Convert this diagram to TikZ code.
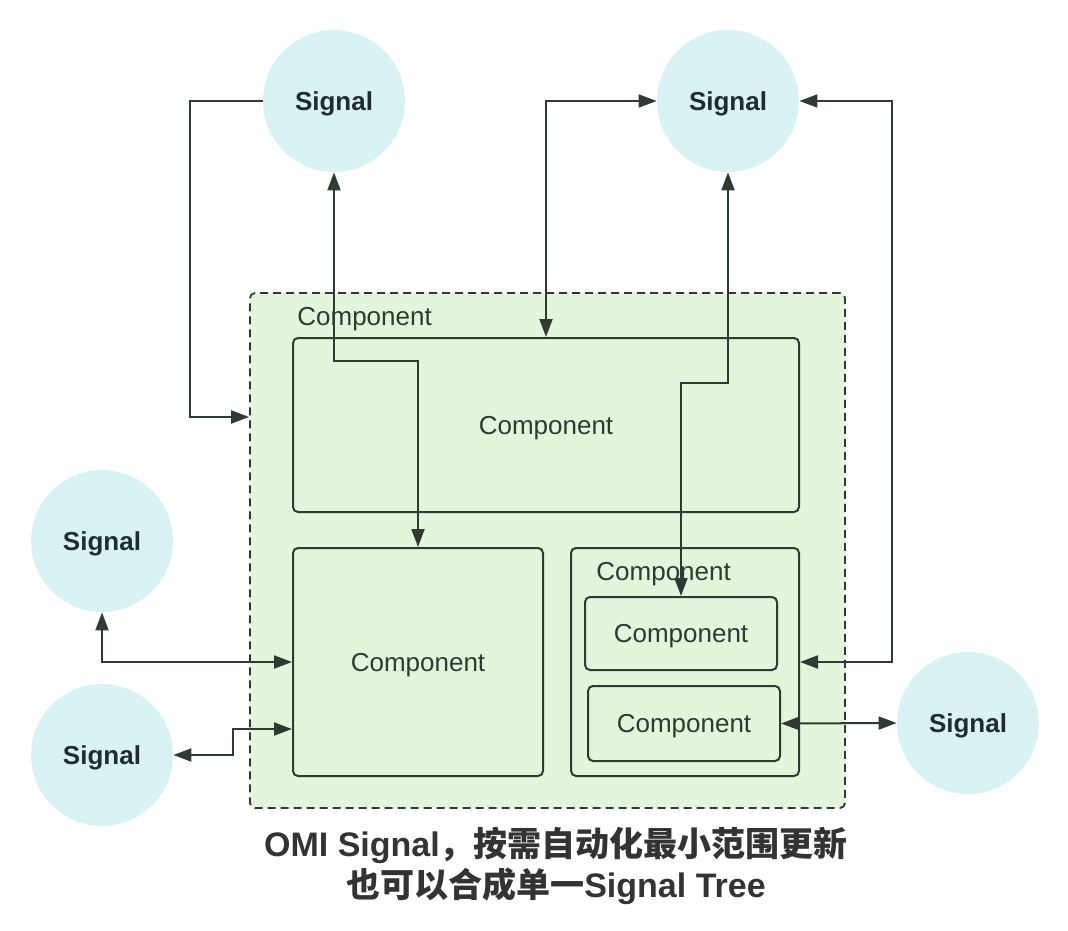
\documentclass[tikz,border=0pt]{standalone}
\usepackage{fontspec}
\setmainfont{Liberation Sans}
\newfontfamily\cjk{Noto Sans CJK SC}
\usetikzlibrary{arrows.meta}

\definecolor{sigfill}{HTML}{D9F2F3}
\definecolor{compfill}{HTML}{E3F6DB}
\definecolor{edge}{HTML}{2F3A33}
\definecolor{sigtext}{HTML}{1F2D33}
\definecolor{titletext}{HTML}{333333}

\begin{document}
\begin{tikzpicture}[x=0.5pt,y=-0.5pt,
    signal/.style={circle,fill=sigfill,minimum size=71pt,inner sep=0pt,text depth=0pt,
      text=sigtext,font=\fontsize{13}{15}\selectfont\bfseries},
    comp/.style={draw=edge,line width=1pt,rounded corners=2.5pt,fill=compfill,
      inner sep=0pt,text depth=0pt,text=edge,font=\fontsize{13}{15}\selectfont},
    outer/.style={draw=edge,line width=0.9pt,dash pattern=on 4pt off 2.5pt,
      rounded corners=2.5pt,fill=compfill,inner sep=0pt},
    complabel/.style={anchor=west,inner sep=0pt,text depth=0pt,text=edge,font=\fontsize{13}{15}\selectfont},
    link/.style={draw=edge,line width=1pt,{Triangle[length=9pt,width=6.5pt]}-{Triangle[length=9pt,width=6.5pt]}},
    onelink/.style={draw=edge,line width=1pt,-{Triangle[length=9pt,width=6.5pt]}}]
  \useasboundingbox (0,0) rectangle (1068,930);

  \node [signal] at (334,101) (SigTL) {Signal};
  \node [signal] at (728,101) (SigTR) {Signal};
  \node [signal] at (102,541) (SigL1) {Signal};
  \node [signal] at (102,755) (SigL2) {Signal};
  \node [signal] at (968,723) (SigR)  {Signal};

  \node [outer, minimum width=297.5pt, minimum height=257.5pt] at (547.5,550.5) (Outer) {};
  \node [complabel] at (297,316) {Component};

  \node [comp, minimum width=253pt, minimum height=87pt]  at (546,425) (Top) {Component};
  \node [comp, minimum width=125pt, minimum height=114pt] at (418,662) (Left) {Component};
  \node [comp, minimum width=114pt, minimum height=114pt] at (685,662) (Right) {};
  \node [complabel] at (596,571) {Component};
  \node [comp, minimum width=96pt, minimum height=36.5pt] at (681,633.5) (InnerA) {Component};
  \node [comp, minimum width=96pt, minimum height=37.5pt] at (684,723.5) (InnerB) {Component};

  \draw [onelink] (SigTL.west) -- ++(-73,0) |- ([yshift=66.75pt]Outer.west);
  \draw [link] (Left.north) -- ++(0,-186) -| (SigTL.south);
  \draw [link] (Top.north) |- (SigTR.west);
  \draw [link] (InnerA.north) -- ++(0,-213) -| (SigTR.south);
  \draw [link] (Right.east) -- ++(92,0) |- (SigTR.east);
  \draw [link] (SigL1.south) |- (Left.west);
  \draw [link] (SigL2.east) -- ++(60,0) |- ([yshift=-33.5pt]Left.west);
  \draw [link] (InnerB.east) -- (SigR.west);

  \node [align=center, text=titletext, font=\fontsize{17}{20.5}\selectfont\bfseries] at (556,866) (Title)
    {OMI Signal{\cjk ，按需自动化最小范围更新}\\{\cjk 也可以合成单一}Signal Tree};
\end{tikzpicture}
\end{document}
